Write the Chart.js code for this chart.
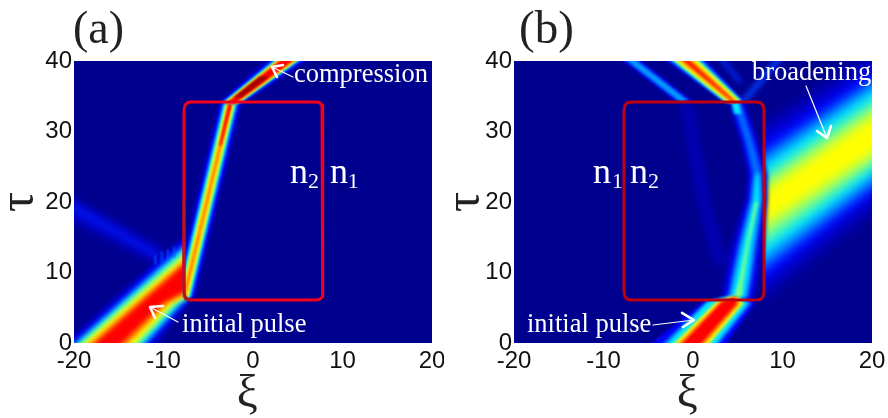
<!DOCTYPE html>
<html><head><meta charset="utf-8">
<script src="https://cdn.jsdelivr.net/npm/chart.js@4/dist/chart.umd.min.js"></script>
<style>html,body{margin:0;padding:0;background:#fff}
canvas{position:absolute;top:0}#ca{left:0}#cb{left:444px}</style></head>
<body><canvas id="ca" width="444" height="418"></canvas><canvas id="cb" width="444" height="418"></canvas>
<script>
const xiTicks=[-20,-10,0,10,20];
const tauTicks=[0,10,20,30,40];
const DIM='#0000c0',BLUE='#0000ff',AZ='#0070ff',SK='#00a8ff',CY='#00e8ff',GR='#80ff80',YE='#ffff00',OR='#ff9000',RE='#ff0000',DR='#a00000';
const BG='#00008f';

/* ---------- panel (a): outlines, [xi,tau] ---------- */
const pulseA_dim=[[-23.6,-3],[-12.4,-3],[-7.4,5.4],[-7.4,15.6]];
const pulseA_blue=[[-23,-3],[-13.4,-3],[-7.5,5.7],[-7.4,5.9],[-7.4,15]];
const pulseA_az=[[-22.6,-3],[-13.9,-3],[-7.8,5.7],[-7.4,6.1],[-7.4,14.3]];
const pulseA_cy=[[-22.2,-3],[-14.4,-3],[-8.1,5.7],[-7.4,6.3],[-7.4,13.8]];
const pulseA_gr=[[-21.9,-3],[-14.9,-3],[-8.5,5.7],[-7.4,6.5],[-7.4,13.3]];
const pulseA_ye=[[-21.5,-3],[-15.4,-3],[-8.9,5.7],[-7.4,6.7],[-7.4,12.6]];
const pulseA_or=[[-20.9,-3],[-16.2,-3],[-9.4,5.7],[-7.4,7],[-7.4,12]];
const pulseA_re=[[-20.3,-3],[-17,-3],[-10,5.7],[-7.4,7.4],[-7.4,11.5]];
const reflA_dim=[[-21.5,21.6],[-21.5,18],[-10.5,11],[-10,13.4]];
const reflA_blue=[[-21,20.6],[-21,19],[-10.7,11.9],[-10.4,12.8]];
const fringeA_xi=[[-10.9,-10.9],[-10.2,-10.2],[-9.5,-9.5],[-8.8,-8.8]];
const fringeA_tau=[[11.2,12.4],[11.5,12.9],[11.8,13.2],[12.2,13.6]];
const maskA=[[-7.65,6.1],[7.85,6.1],[7.85,34.18],[-7.65,34.18]];
const beamA_tau=[6.5,8,10,12,14,34.2];
const beamA_xi=[-7.7,-7.42,-7.04,-6.67,-6.29,-2.5];
const beamA_half=[[DIM,1.3,1.3,1.3,1.3,1.3,1.3],[BLUE,1.05,1.05,1.05,1.05,1.05,1.05],[AZ,.85,.85,.85,.85,.85,.85],[CY,.68,.68,.68,.68,.68,.68],[GR,.52,.52,.52,.52,.52,.52],[YE,.4,.4,.4,.4,.4,.4],[OR,.22,.22,.22,.22,.22,.22]];
const beamAred_tau=[28,34.2];
const beamAred_xi=[-3.66,-2.5];
const compA_tau=[34,40,43];
const compA_xi=[-2.5,3.7,6.8];
const compA_half=[[DIM,1.5,2.3,2.3],[BLUE,1.25,1.9,1.9],[AZ,1.05,1.6,1.6],[CY,.9,1.3,1.3],[GR,.8,1.15,1.15],[YE,.7,1.05,1.05],[OR,.6,.9,.9],[RE,.45,.7,.7]];
const compAcore_tau=[34.8,37.8];
const compAcore_xi=[-1.8,1.3];
const boxA_xi=[-7.71,-7.71,-7.6,-7.3,-6.9,7.01,7.41,7.71,7.82,7.82,7.71,7.41,7.01,-6.9,-7.3,-7.6,-7.71];
const box_tau=[7.3,33,33.75,34.1,34.18,34.18,34.1,33.75,33,7.3,6.55,6.18,6.1,6.1,6.18,6.55,7.3];
const boxAdark_xi=[-7.71,-7.71,-7.6,-7.3,-6.9];
const boxAdark_tau=[20,7.3,6.55,6.18,6.1];

/* ---------- panel (b) ---------- */
const pulseB_blue=[[-7.5,-3],[2,-3],[6.9,5.6],[6.4,6.3],[3.8,6.4],[1.2,5.9]];
const pulseB_az=[[-5.8,-3],[1.1,-3],[6.5,5.6],[6,6.35],[4,6.5],[1.5,5.9]];
const pulseB_cy=[[-5.1,-3],[.8,-3],[6.1,5.6],[5.6,6.4],[4.2,6.7],[1.7,5.9]];
const pulseB_ye=[[-4.45,-3],[-.08,-3],[5.6,5.6],[5.1,6.5],[4.3,6.6],[2.6,5.8]];
const pulseB_or=[[-3.97,-3],[-.59,-3],[5.25,5.6],[4.9,6.55],[4.3,6.5],[3,5.8]];
const pulseB_re=[[-3.4,-3],[-1.13,-3],[4.9,5.6],[4.6,6.5],[4.3,6.3],[3.2,5.8]];
const bandB_dim=[[5,28.5],[23,43.5],[23,21.7],[5,3.4]];
const bandB_blue=[[5,26.3],[23,41.2],[23,23.8],[5,5.8]];
const bandB_az=[[5,24.4],[23,39.8],[23,25],[5,7.6]];
const bandB_cy=[[5,22.9],[23,38.5],[23,26.4],[5,9.4]];
const bandB_gr=[[5,20.9],[23,36.6],[23,27.8],[5,11.6]];
const bandB_ye=[[5,19.2],[23,34.9],[23,29.1],[5,14.1]];
const maskB=[[-7.65,6.1],[7.9,6.1],[7.9,34.18],[-7.65,34.18]];
const maskBlow=[[6,-2],[8,-2],[7.9,6.2],[6,6.2]];
const boxB_tau=[6.3,10,14,20.3,24,28.5,34];
const boxB_xi=[5,5.55,6.1,7.1,7.2,6.3,4.9];
const boxB_half=[[DIM,1.9,2,1.9,1.2,1.1,1,.9],[BLUE,1.45,1.45,1.3,1,.8,.7,.65],[AZ,1.1,1.1,1,.7,.5,.42,.4]];
const boxBcy_tau=[6.3,10,14,20.3,24];
const boxBcy_xi=[5,5.55,6.1,7.1,7.2];
const boxBcy_half=[.8,.75,.6,.4,.2];
const boxBgr_tau=[6.3,9,14,20];
const boxBgr_xi=[5,5.4,6.1,7.1];
const boxBgr_half=[.4,.22,.13,.15];
const blobB_tau=[32.5,34.2];
const blobB_xi=[5,4.7];
const blobB_half=[.4,.4];
const reflB_tau=[34.2,40,43];
const reflB_xi=[4.6,-.7,-3.4];
const reflB_half=[[BLUE,1.1,2.2,2.2],[AZ,1,1.85,1.85],[CY,.9,1.5,1.5],[GR,.8,1.3,1.3],[YE,.65,1.15,1.15],[OR,.35,.75,.75],[RE,.1,.3,.3]];
const thinB_tau=[34.3,40,43];
const thinB_xi=[-1,-6.8,-9.6];
const thinB_half=[[BLUE,.9,.9,.9],[AZ,.6,.6,.6],[SK,.3,.3,.3]];
const faintB_tau=[34,20,11];
const faintB_xi=[-.7,1.2,3.2];
const faintB_half=[.8,.8,.8];
const branchB_tau=[34.2,40,43];
const branchB_xi=[5.6,9.4,11.4];
const branchB_half=[.5,.5,.5];
const sideB_tau=[37,40,43];
const sideB_xi=[5.3,3.4,1.5];
const sideB_half=[.35,.35,.35];
const boxB_xiLine=[-7.71,-7.71,-7.6,-7.3,-6.9,7.12,7.52,7.82,7.93,7.93,7.82,7.52,7.12,-6.9,-7.3,-7.6,-7.71];

/* ---------- annotations ---------- */
const arrowsA=[
 {xi:[4.47,2.12],tau:[37.73,39.15],wx:[3.35,2.12,2.68],wt:[39.43,39.15,37.73]},
 {xi:[-8.38,-11.51],tau:[2.98,5.11],wx:[-10.06,-11.51,-10.95],wt:[5.25,5.11,3.55]}];
const arrowsB=[
 {xi:[-4.47,.11],tau:[2.55,3.26],wx:[-1.23,.11,-1.12],wt:[4.26,3.26,2.27]},
 {xi:[12.63,14.97],tau:[36.45,29.08],wx:[13.85,14.97,15.42],wt:[30.07,29.08,30.78]}];
const SERIF='"Liberation Serif"';
const textsA=[['compression',4.58,37,26.5],['initial pulse',-7.93,1.56,26.5],['n',4.13,22.7,36],['2',6.15,22,22],['n',8.6,22.7,36],['1',10.6,22,22]];
const textsB=[['broadening',6.59,37.3,26.5],['initial pulse',-18.55,1.56,26.5],['n',-11.17,22.7,36],['1',-9.05,22,22],['n',-7.04,22.7,36],['2',-5.03,22,22]];

const toPts=a=>a.map(p=>({x:p[0],y:p[1]}));
function poly(color,pts,blur){return {data:toPts(pts),fill:'shape',backgroundColor:color,borderWidth:0,pointRadius:0,showLine:true,blur:blur===undefined?1.2:blur};}
function ribbon(tau,xi,half,clip){
  const l=tau.map((t,i)=>[clip===undefined?xi[i]-half[i]:Math.max(xi[i]-half[i],clip),t]),r=tau.map((t,i)=>[xi[i]+half[i],t]).reverse();
  return l.concat(r);
}
function ribbons(tau,xi,table,blur,clip){return table.map(row=>poly(row[0],ribbon(tau,xi,row.slice(1),clip),blur));}
function stroke(color,w,xs,ts,blur){return {data:xs.map((x,i)=>({x,y:ts[i]})),borderColor:color,borderWidth:w,fill:false,pointRadius:0,showLine:true,blur:blur||0,borderCapStyle:'round',borderJoinStyle:'round'};}
function arrowSets(list){const o=[];list.forEach(a=>{o.push(stroke('#fff',1.2,a.xi,a.tau));o.push(stroke('#fff',2.6,a.wx,a.wt));});return o;}

const dsA=[
 poly(DIM,reflA_dim,4),poly('#0010e8',reflA_blue,3),
 poly(DIM,pulseA_dim,2.5),poly(BLUE,pulseA_blue,2.5),poly(AZ,pulseA_az,2.5),poly(CY,pulseA_cy,2.5),poly(GR,pulseA_gr,2.5),poly(YE,pulseA_ye,2.5),poly(OR,pulseA_or,2.5),poly(RE,pulseA_re,2.5),
 ...fringeA_xi.map((x,i)=>stroke('#0060ff',1.5,x,fringeA_tau[i],.8)),
 poly(BG,maskA,0),
 ...ribbons(beamA_tau,beamA_xi,beamA_half,1.2,-7.7),
 poly(RE,ribbon(beamAred_tau,beamAred_xi,[.12,.2])),
 ...ribbons(compA_tau,compA_xi,compA_half,1.2),
 poly(DR,ribbon(compAcore_tau,compAcore_xi,[.4,.5])),
 stroke('#f40018',3,boxA_xi,box_tau),
 stroke('#b81024',3,boxAdark_xi,boxAdark_tau),
 ...arrowSets(arrowsA)
];
const dsB=[
 poly(DIM,bandB_dim,6),poly(BLUE,bandB_blue,6),poly(AZ,bandB_az,6),poly(CY,bandB_cy,6),poly(GR,bandB_gr,6),poly(YE,bandB_ye,6),
 poly(BG,maskB,0),poly(BG,maskBlow,0),
 poly('#0000b0',ribbon(faintB_tau,faintB_xi,faintB_half),3),
 poly('#0030e0',ribbon(branchB_tau,branchB_xi,branchB_half),2.5),
 poly('#0020e0',ribbon(sideB_tau,sideB_xi,sideB_half),2.5),
 ...ribbons(boxB_tau,boxB_xi,boxB_half,2.2),
 poly(CY,ribbon(boxBcy_tau,boxBcy_xi,boxBcy_half),2),
 poly(GR,ribbon(boxBgr_tau,boxBgr_xi,boxBgr_half),1.5),
 poly(CY,ribbon(blobB_tau,blobB_xi,blobB_half),1.5),
 ...ribbons(thinB_tau,thinB_xi,thinB_half,1.5),
 ...ribbons(reflB_tau,reflB_xi,reflB_half,1.5),
 poly(BLUE,pulseB_blue,1.5),poly(AZ,pulseB_az,1.5),poly(CY,pulseB_cy,1.5),poly(YE,pulseB_ye,1.5),poly(OR,pulseB_or,1.5),poly(RE,pulseB_re,1.5),
 stroke('#c00010',3,boxB_xiLine,box_tau),
 ...arrowSets(arrowsB)
];
[dsA,dsB].forEach(d=>d.forEach((s,i)=>{s.order=d.length-i;}));

function blurOf(d){return d&&d.blur?'blur('+d.blur+'px)':'none';}
function makeChart(id,datasets,texts,panel,leftW,rightP,tagX,tagSize,tauPad){
  const plugin={id:'heat',
    beforeDraw(c){const {ctx,chartArea:a}=c;ctx.save();ctx.fillStyle=BG;ctx.fillRect(a.left,a.top,a.right-a.left,a.bottom-a.top);ctx.restore();},
    beforeDatasetsDraw(c){c.ctx.filter=blurOf(c.data.datasets[0]);},
    afterDatasetDraw(c,args){c.ctx.filter=blurOf(c.data.datasets[args.index+1]);},
    afterDatasetsDraw(c){c.ctx.filter='none';},
    afterDraw(c){const {ctx,scales:{x,y}}=c;ctx.save();ctx.filter='none';ctx.textBaseline='alphabetic';ctx.textAlign='left';
      ctx.fillStyle='#fff';
      texts.forEach(t=>{ctx.font=t[3]+'px '+SERIF;ctx.fillText(t[0],x.getPixelForValue(t[1]),y.getPixelForValue(t[2]));});
      ctx.fillStyle='#222';ctx.font=tagSize+'px '+SERIF;ctx.fillText(panel,tagX,43);ctx.restore();}
  };
  return new Chart(document.getElementById(id),{type:'scatter',data:{datasets},plugins:[plugin],
    options:{responsive:false,animation:false,devicePixelRatio:1,events:[],
      layout:{padding:{top:61,right:rightP,left:0,bottom:0}},
      plugins:{legend:{display:false},tooltip:{enabled:false}},
      scales:{
        x:{type:'linear',min:-20,max:20,afterBuildTicks(s){s.ticks=xiTicks.map(v=>({value:v}));},afterFit(s){s.height=75;s.paddingRight=0;s.paddingLeft=0;},
          grid:{display:false,drawTicks:false},border:{display:false},
          ticks:{color:'#111',font:{family:'"Liberation Sans"',size:24},padding:4,maxRotation:0,autoSkip:false,callback:v=>String(v)},
          title:{display:true,text:'ξ ',color:'#222',font:{family:SERIF,size:47,lineHeight:1},padding:{top:-7,bottom:0}}},
        y:{type:'linear',min:0,max:40,afterBuildTicks(s){s.ticks=tauTicks.map(v=>({value:v}));},afterFit(s){s.width=leftW;s.paddingTop=0;s.paddingBottom=0;},
          grid:{display:false,drawTicks:false},border:{display:false},
          ticks:{color:'#111',font:{family:'"Liberation Sans"',size:24},padding:2,autoSkip:false,callback:v=>String(v)},
          title:{display:true,text:'τ',color:'#222',font:{family:SERIF,size:50,lineHeight:1},padding:{top:tauPad,bottom:0}}}
      }}});
}
makeChart('ca',dsA,textsA,'(a)',74,12,73,46,-5);
makeChart('cb',dsB,textsB,'(b)',70,16,75,47,-3);
</script></body></html>
